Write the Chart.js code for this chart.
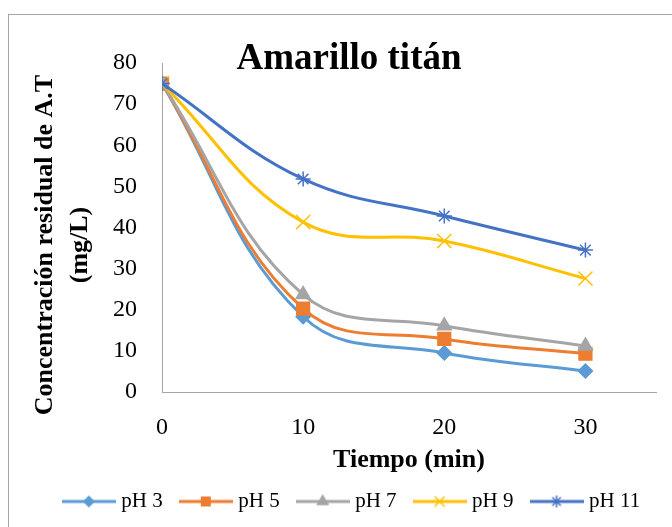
<!DOCTYPE html>
<html>
<head>
<meta charset="utf-8">
<script src="https://cdn.jsdelivr.net/npm/chart.js@4"></script>
<style>
  html, body { margin: 0; padding: 0; background: #fff; overflow: hidden; }
  #frame { position: absolute; left: 8px; top: 14px; width: 680px; height: 513px;
           border-left: 1px solid #a6a6a6; border-top: 1px solid #a6a6a6; }
  #chart { display: block; }
</style>
</head>
<body>
<div id="frame"><canvas id="chart" width="680" height="513"></canvas></div>
<script>
// tiempo de contacto (min) y concentración residual (mg/L) por pH
const tiempo = [0, 10, 20, 30];
const nombres = ['pH 3', 'pH 5', 'pH 7', 'pH 9', 'pH 11'];
const ph3 = [75, 18.3, 9.5, 5.1];
const ph5 = [75, 20.3, 12.9, 9.3];
const ph7 = [75, 23.7, 16.1, 11.2];
const ph9 = [75, 41.3, 36.7, 27.6];
const ph11 = [75, 51.8, 42.8, 34.5];

const colores = ['#5B9BD5', '#ED7D31', '#A5A5A5', '#FFC000', '#4472C4'];
const marcadores = ['rectRot', 'rect', 'triangle', 'crossRot', 'star'];
const radios = [7, 9, 8, 10, 7.5];
const radiosLeyenda = [5, 6, 6, 7, 6];

const titulo = 'Amarillo titán';
const tituloY = ['Concentración residual de A.T', '(mg/L)'];
const tituloX = 'Tiempo (min)';

const FONT = '"Liberation Serif", "Times New Roman", serif';
Chart.defaults.color = '#000';
Chart.defaults.font.family = FONT;

const series = [ph3, ph5, ph7, ph9, ph11];

// small line + marker icons for the legend
const iconos = series.map((s, i) => {
  const c = document.createElement('canvas');
  c.width = 54; c.height = 18;
  const g = c.getContext('2d');
  g.strokeStyle = colores[i];
  g.lineWidth = 3;
  g.beginPath(); g.moveTo(0, 9); g.lineTo(54, 9); g.stroke();
  g.fillStyle = colores[i];
  g.lineWidth = 1.5;
  Chart.helpers.drawPoint(g, { pointStyle: marcadores[i], radius: radiosLeyenda[i], rotation: 0, borderWidth: 1.5 }, 27, 9);
  return c;
});

const datasets = series.map((s, i) => ({
  label: nombres[i],
  data: s.map((v, j) => ({ x: tiempo[j], y: v })),
  borderColor: colores[i],
  backgroundColor: colores[i],
  borderWidth: 3,
  tension: 0.4,
  pointStyle: marcadores[i],
  pointRadius: radios[i],
  pointBorderWidth: 1.5,
  pointHoverRadius: radios[i],
  order: series.length - i
}));

const textos = {
  id: 'textos',
  afterLayout(chart) {
    // legend row sits a bit right of the plot's centre
    chart.legend.left += 21;
    chart.legend.right += 21;
  },
  afterDraw(chart) {
    const ctx = chart.ctx;
    ctx.save();
    ctx.fillStyle = '#000';
    ctx.textAlign = 'center';
    ctx.textBaseline = 'alphabetic';
    ctx.font = 'bold 37px ' + FONT;
    ctx.fillText(titulo, chart.width / 2, 54);
    ctx.font = 'bold 26px ' + FONT;
    ctx.textBaseline = 'middle';
    ctx.translate(36, 230);
    ctx.rotate(-Math.PI / 2);
    tituloY.forEach((t, k) => ctx.fillText(t, 0, k * 35));
    ctx.restore();
  }
};

new Chart(document.getElementById('chart').getContext('2d'), {
  type: 'line',
  data: { datasets: datasets },
  plugins: [textos],
  options: {
    responsive: false,
    animation: false,
    layout: { padding: { top: 48, right: 33, bottom: 6, left: 0 } },
    plugins: {
      tooltip: { enabled: false },
      legend: {
        position: 'bottom',
        labels: {
          usePointStyle: true,
          pointStyleWidth: 44,
          boxHeight: 18,
          padding: 21,
          font: { size: 21 },
          sort: (a, b) => a.datasetIndex - b.datasetIndex,
          generateLabels(chart) {
            const items = Chart.defaults.plugins.legend.labels.generateLabels(chart);
            items.forEach(it => { it.pointStyle = iconos[it.datasetIndex]; });
            return items;
          }
        }
      }
    },
    scales: {
      x: {
        type: 'linear',
        min: 0,
        max: 35,
        grid: { display: false, drawTicks: false },
        border: { display: true, color: '#a6a6a6', width: 1 },
        ticks: { stepSize: 10, padding: 21, font: { size: 24 } },
        afterBuildTicks(scale) { scale.ticks = scale.ticks.filter(t => t.value % 10 === 0); },
        afterFit(scale) { scale.height = 78; },
        title: { display: true, text: tituloX, font: { size: 26, weight: 'bold' }, padding: { top: 0, bottom: -6 } }
      },
      y: {
        min: 0,
        max: 80,
        grid: { display: false, drawTicks: false },
        border: { display: true, color: '#a6a6a6', width: 1 },
        ticks: { stepSize: 10, padding: 25, font: { size: 24 } },
        afterFit(scale) { scale.width = 153; }
      }
    }
  }
});
</script>
</body>
</html>
